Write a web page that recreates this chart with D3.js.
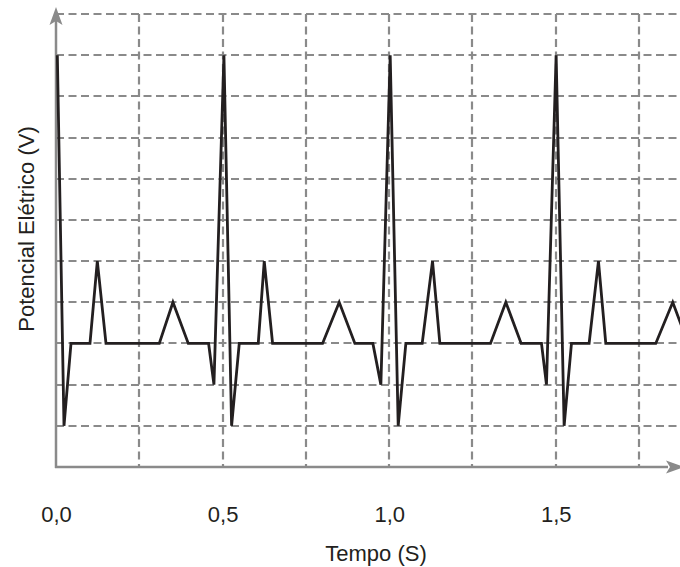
<!DOCTYPE html>
<html>
<head>
<meta charset="utf-8">
<script src="https://cdn.jsdelivr.net/npm/d3@7"></script>
<style>
  body { margin: 0; background: #fff; }
  svg { display: block; }
  text { font-family: "Liberation Sans", Arial, sans-serif; fill: #231f20; }
</style>
</head>
<body>
<svg id="chart"></svg>
<script>
const width = 680
const height = 567

// ECG-like trace (time in s, level in grid units)
const times = [0.004, 0.024, 0.045, 0.102, 0.124, 0.150, 0.310, 0.351, 0.397, 0.458, 0.474,
  0.504, 0.527, 0.550, 0.607, 0.625, 0.650, 0.800, 0.850, 0.897, 0.951, 0.975,
  1.003, 1.027, 1.050, 1.099, 1.130, 1.152, 1.304, 1.350, 1.396, 1.457, 1.472,
  1.501, 1.525, 1.547, 1.600, 1.628, 1.650, 1.800, 1.851, 1.897]
const levels = [10, 1, 3, 3, 5, 3, 3, 4, 3, 3, 2,
  10, 1, 3, 3, 5, 3, 3, 4, 3, 3, 2,
  10, 1, 3, 3, 5, 3, 3, 4, 3, 3, 2,
  10, 1, 3, 3, 5, 3, 3, 4, 3]

const xTicks = [0, 0.5, 1.0, 1.5]
const xGrid = [0.25, 0.5, 0.75, 1.0, 1.25, 1.5, 1.75]
const yGrid = [1, 2, 3, 4, 5, 6, 7, 8, 9, 10, 11]

const gridColor = '#8a8a8a'
const axisColor = '#8a8a8a'

const x = d3.scaleLinear().domain([0, 1.9]).range([56, 56 + 1.9 * 333.2])
const y = d3.scaleLinear().domain([0, 11]).range([467, 14])

const svg = d3.select('#chart').attr('width', width).attr('height', height)

// grid
const grid = svg.append('g').attr('class', 'grid')
grid.selectAll('line.h')
  .data(yGrid)
  .enter().append('line')
  .attr('class', 'h')
  .attr('x1', x(0)).attr('x2', width)
  .attr('y1', d => Math.round(y(d))).attr('y2', d => Math.round(y(d)))
  .attr('stroke', gridColor)
  .attr('stroke-width', 2.2)
  .attr('stroke-dasharray', '8,4.5')

grid.selectAll('line.v')
  .data(xGrid)
  .enter().append('line')
  .attr('class', 'v')
  .attr('x1', d => Math.round(x(d))).attr('x2', d => Math.round(x(d)))
  .attr('y1', Math.round(y(11))).attr('y2', y(0))
  .attr('stroke', gridColor)
  .attr('stroke-width', 2.2)
  .attr('stroke-dasharray', '8,4.5')

// axes with arrows
const axes = svg.append('g').attr('class', 'axes')
axes.append('line')
  .attr('x1', x(0)).attr('x2', x(0))
  .attr('y1', y(0) + 1).attr('y2', 20)
  .attr('stroke', axisColor).attr('stroke-width', 2.5)
axes.append('path')
  .attr('d', `M${x(0)},7 L${x(0) - 6.5},25 L${x(0)},21 L${x(0) + 6.5},25 Z`)
  .attr('fill', axisColor)

axes.append('line')
  .attr('x1', x(0) - 1).attr('x2', 668)
  .attr('y1', y(0)).attr('y2', y(0))
  .attr('stroke', axisColor).attr('stroke-width', 2.5)
axes.append('path')
  .attr('d', `M684,${y(0)} L666,${y(0) - 6.5} L670,${y(0)} L666,${y(0) + 6.5} Z`)
  .attr('fill', axisColor)

// tick labels
const xAxis = d3.axisBottom(x)
  .tickValues(xTicks)
  .tickSize(0)
  .tickPadding(39.5)
  .tickFormat(d => d3.format('.1f')(d).replace('.', ','))

svg.append('g')
  .attr('transform', `translate(0,${y(0)})`)
  .call(xAxis)
  .call(g => g.select('.domain').remove())
  .call(g => g.selectAll('text')
    .style('font-size', '22px')
    .style('font-family', '"Liberation Sans", Arial, sans-serif')
    .attr('fill', '#231f20'))

// trace
const pts = times.map((t, i) => [t, levels[i]])
svg.append('path')
  .datum(pts)
  .attr('d', d3.line().x(d => x(d[0])).y(d => y(d[1])))
  .attr('fill', 'none')
  .attr('stroke', '#231f20')
  .attr('stroke-width', 2.8)

// titles
svg.append('text')
  .attr('x', 376).attr('y', 561)
  .attr('text-anchor', 'middle')
  .style('font-size', '22px')
  .text('Tempo (S)')

svg.append('text')
  .attr('transform', 'translate(34,229) rotate(-90)')
  .attr('text-anchor', 'middle')
  .style('font-size', '22px')
  .text('Potencial Elétrico (V)')
</script>
</body>
</html>
